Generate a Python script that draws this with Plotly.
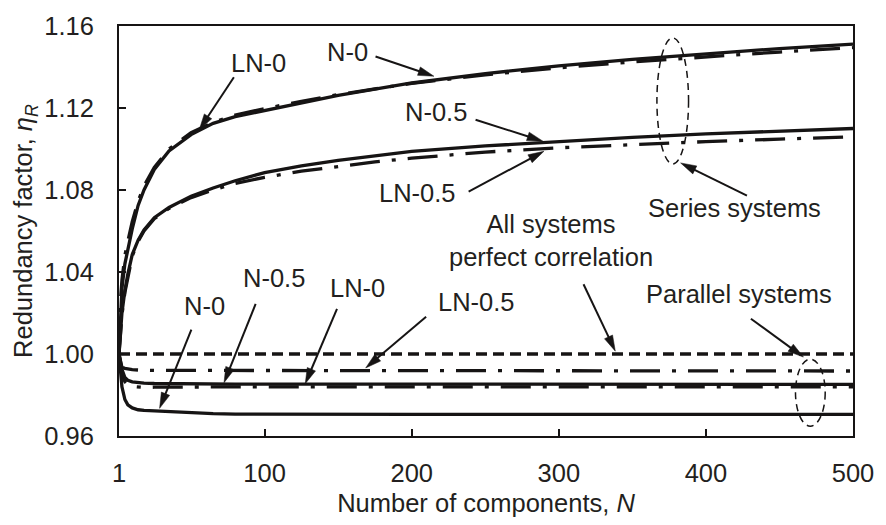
import plotly.graph_objects as go

# ---------------- data ----------------
N = [1, 2, 3, 5, 7, 10, 14, 18, 25, 35, 50, 65, 80, 100, 125, 150, 175, 200, 250, 300, 350, 400, 450, 500]

series_N0 = [1.000, 1.022, 1.032, 1.044, 1.051, 1.061, 1.0725, 1.0800, 1.0900, 1.0990, 1.1070, 1.1125, 1.1158,
             1.1188, 1.1225, 1.1262, 1.1292, 1.1322, 1.1368, 1.1405, 1.1437, 1.1465, 1.1490, 1.1512]
series_LN0 = [1.000, 1.026, 1.036, 1.048, 1.055, 1.0645, 1.0745, 1.0820, 1.0910, 1.1000, 1.1080, 1.1130, 1.1165,
              1.1197, 1.1232, 1.1265, 1.1293, 1.1320, 1.1362, 1.1396, 1.1425, 1.1450, 1.1473, 1.1495]
series_N05 = [1.000, 1.012, 1.020, 1.031, 1.039, 1.0485, 1.0555, 1.0605, 1.0665, 1.0715, 1.0770, 1.0810, 1.0845,
              1.0885, 1.0918, 1.0945, 1.0968, 1.0988, 1.1015, 1.1037, 1.1057, 1.1074, 1.1088, 1.1100]
series_LN05 = [1.000, 1.011, 1.019, 1.030, 1.038, 1.0478, 1.0550, 1.0600, 1.0660, 1.0710, 1.0763, 1.0800, 1.0832,
               1.0862, 1.0892, 1.0915, 1.0937, 1.0955, 1.0985, 1.1006, 1.1022, 1.1036, 1.1048, 1.1060]

par_N0 = [1.000, 0.991, 0.984, 0.9778, 0.9752, 0.9737, 0.9728, 0.9725, 0.9722, 0.9718, 0.9713, 0.9709, 0.9707,
          0.9706, 0.9705, 0.9705, 0.9705, 0.9705, 0.9705, 0.9705, 0.9705, 0.9705, 0.9705, 0.9705]
par_N05 = [1.000, 0.9955, 0.9925, 0.9885, 0.9872, 0.9864, 0.9860, 0.9858, 0.9856, 0.9855, 0.9854, 0.9853, 0.9853,
           0.9853, 0.9853, 0.9853, 0.9853, 0.9853, 0.9853, 0.9853, 0.9852, 0.9852, 0.9852, 0.9852]
par_LN0 = [1.000, 0.994, 0.990, 0.9865, 0.9850, 0.9842, 0.9838, 0.9837, 0.9838, 0.9839, 0.9840, 0.9840, 0.9840,
           0.9840, 0.9840, 0.9840, 0.9840, 0.9840, 0.9840, 0.9840, 0.9840, 0.9840, 0.9840, 0.9840]
par_LN05 = [1.000, 0.9955, 0.9935, 0.9930, 0.9927, 0.9924, 0.9922, 0.9920, 0.9920, 0.9920, 0.9920, 0.9919, 0.9919,
            0.9919, 0.9919, 0.9919, 0.9918, 0.9918, 0.9918, 0.9918, 0.9918, 0.9917, 0.9917, 0.9917]

N_perfect = [1, 500]
par_perfect = [1.000, 1.000]

x_ticks = [1, 100, 200, 300, 400, 500]
y_ticks = [0.96, 1.00, 1.04, 1.08, 1.12, 1.16]

# label text: (text, N, eta)
labels = [
    ("LN-0", 95.95, 1.1398),
    ("N-0", 156.6, 1.1456),
    ("N-0.5", 216.5, 1.1163),
    ("LN-0.5", 203.7, 1.0768),
    ("Series systems", 419.2, 1.0691),
    ("All systems<br>perfect correlation", 294.6, 1.0535),
    ("N-0.5", 106.7, 1.0350),
    ("N-0", 58.9, 1.0215),
    ("LN-0", 163.3, 1.0302),
    ("LN-0.5", 244.1, 1.0235),
    ("Parallel systems", 422.6, 1.0273),
]
# arrows: (tail N, tail eta, head N, head eta)
arrows = [
    (79.1, 1.1350, 55.6, 1.1095),
    (175.4, 1.1451, 215.1, 1.1355),
    (243.4, 1.1143, 289.2, 1.1038),
    (238.7, 1.0792, 289.9, 1.0989),
    (427.9, 1.0773, 382.8, 1.0932),
    (316.8, 1.0340, 338.4, 1.0014),
    (93.9, 1.0244, 72.4, 0.9860),
    (50.2, 1.0119, 28.6, 0.9735),
    (149.2, 1.0220, 127.6, 0.9855),
    (209.8, 1.0182, 168.7, 0.9932),
    (430.6, 1.0172, 466.3, 0.9985),
]
# dashed ellipses: (N0, N1, eta0, eta1)
ellipses = [
    (366.7, 388.2, 1.0927, 1.1542),
    (460.9, 481.1, 0.9648, 0.9975),
]

# ---------------- geometry ----------------
W, H = 886, 525
ML, MR, MT, MB = 119, 26, 20, 89
XR = [1, 500]
YR = [0.96, 1.16]
PW = W - ML - MR
PH = H - MT - MB


def to_px(n, v):
    return ML + (n - XR[0]) / (XR[1] - XR[0]) * PW, MT + (YR[1] - v) / (YR[1] - YR[0]) * PH


def to_data(px, py):
    return XR[0] + (px - ML) / PW * (XR[1] - XR[0]), YR[1] - (py - MT) / PH * (YR[1] - YR[0])


FONT = "Liberation Sans, Arial, sans-serif"
FS = 25.5
BLACK = "#161414"
TEXT = "#231f20"
DASHDOT = "30px,12px,4px,12px"

fig = go.Figure()

def add(x, y, dash="solid", width=3.3):
    fig.add_trace(go.Scatter(x=x, y=y, mode="lines",
                             line=dict(color=BLACK, width=width, dash=dash),
                             hoverinfo="skip", showlegend=False))

add(N_perfect, par_perfect, dash="11px,6px", width=3.6)
add(N, par_LN05, dash=DASHDOT)
add(N, par_LN0, dash=DASHDOT)
add(N, par_N05)
add(N, par_N0)
add(N, series_LN0, dash=DASHDOT)
add(N, series_LN05, dash=DASHDOT)
add(N, series_N0)
add(N, series_N05)

shapes = []
HEAD_L, HEAD_W = 16, 4.5
for tn, tv, hn, hv in arrows:
    tx, ty = to_px(tn, tv)
    hx, hy = to_px(hn, hv)
    dx, dy = hx - tx, hy - ty
    d = (dx * dx + dy * dy) ** 0.5
    ux, uy = dx / d, dy / d
    bx, by = hx - ux * HEAD_L, hy - uy * HEAD_L
    px_, py_ = -uy, ux
    p1 = to_data(bx + px_ * HEAD_W, by + py_ * HEAD_W)
    p2 = to_data(bx - px_ * HEAD_W, by - py_ * HEAD_W)
    b = to_data(bx + ux * 2, by + uy * 2)
    shapes.append(dict(type="line", xref="x", yref="y", x0=tn, y0=tv, x1=b[0], y1=b[1],
                       line=dict(color=BLACK, width=2)))
    path = f"M {hn},{hv} L {p1[0]},{p1[1]} L {p2[0]},{p2[1]} Z"
    shapes.append(dict(type="path", xref="x", yref="y", path=path,
                       fillcolor=BLACK, line=dict(color=BLACK, width=0.5)))

for x0, x1, y0, y1 in ellipses:
    shapes.append(dict(type="circle", xref="x", yref="y", x0=x0, x1=x1, y0=y0, y1=y1,
                       line=dict(color=BLACK, width=1.5, dash="7px,5px")))

annotations = [dict(text=t, x=n, y=v, xref="x", yref="y", showarrow=False, yshift=4,
                    font=dict(family=FONT, size=FS, color=TEXT), align="center")
               for t, n, v in labels]

fig.update_layout(
    width=W, height=H,
    margin=dict(l=ML, r=MR, t=MT, b=MB, pad=0),
    paper_bgcolor="white", plot_bgcolor="white",
    showlegend=False,
    shapes=shapes,
    annotations=annotations,
    font=dict(family=FONT, size=FS, color=TEXT),
)
fig.update_xaxes(range=XR, tickvals=x_ticks, ticktext=[str(v) for v in x_ticks],
                 showgrid=False, zeroline=False, showline=True, linecolor=BLACK, linewidth=2,
                 mirror=True, ticks="inside", ticklen=7, tickwidth=1.5, tickcolor=BLACK,
                 ticklabelstandoff=13,
                 tickfont=dict(family=FONT, size=FS, color=TEXT),
                 title=dict(text="Number of components, <i>N</i>", standoff=9,
                            font=dict(family=FONT, size=FS, color=TEXT)))
fig.update_yaxes(range=YR, tickvals=y_ticks, ticktext=[f"{v:.2f}" for v in y_ticks],
                 showgrid=False, zeroline=False, showline=True, linecolor=BLACK, linewidth=2,
                 mirror=True, ticks="inside", ticklen=7, tickwidth=1.5, tickcolor=BLACK,
                 ticklabelstandoff=18,
                 tickfont=dict(family=FONT, size=FS, color=TEXT),
                 title=dict(text="Redundancy factor, <i>η</i><sub><i>R</i></sub>", standoff=4,
                            font=dict(family=FONT, size=FS, color=TEXT)))

fig.write_html("out.html")
